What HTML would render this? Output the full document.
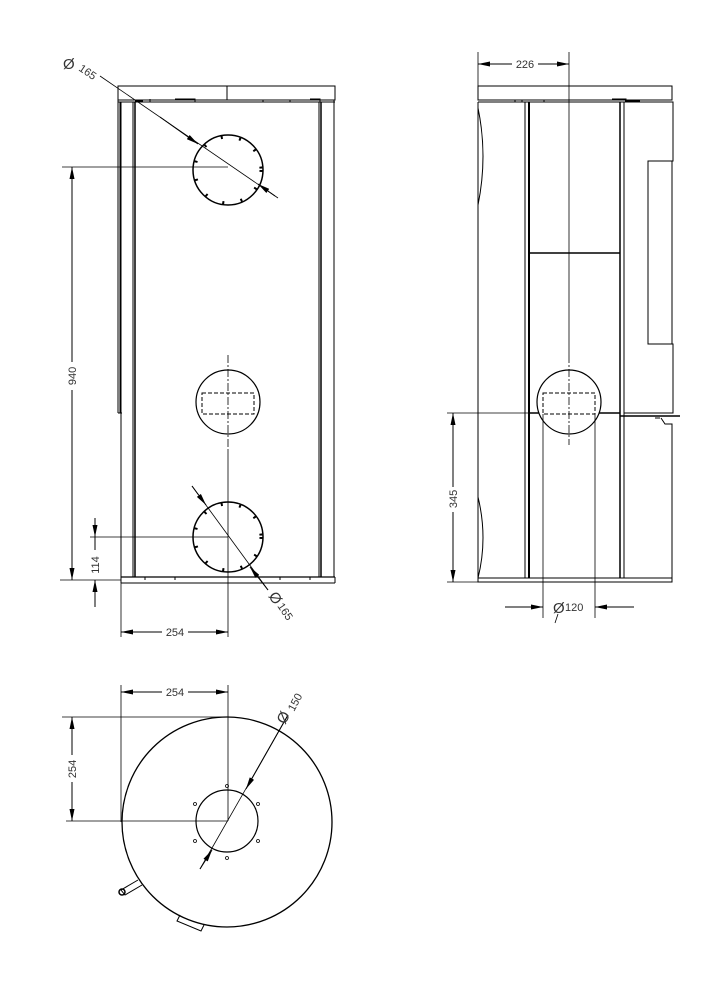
<!DOCTYPE html>
<html><head><meta charset="utf-8"><style>
html,body{margin:0;padding:0;background:#fff}
svg{display:block}
text{font-family:"Liberation Sans",sans-serif;font-size:11px;fill:#333}
.ph{font-size:15px}
</style></head><body>
<svg width="720" height="990" viewBox="0 0 720 990" xmlns="http://www.w3.org/2000/svg">
<defs>
<marker id="a" viewBox="0 0 12 5" refX="12" refY="2.5" markerWidth="12" markerHeight="5" markerUnits="userSpaceOnUse" orient="auto-start-reverse">
<path d="M0,0 L12,2.5 L0,5 z" fill="#000"/></marker>
</defs>
<g fill="none" stroke="#000" stroke-width="1">
<!-- FRONT VIEW -->
<rect x="118" y="86" width="217" height="14"/>
<line x1="227" y1="86" x2="227" y2="100"/>
<line x1="118" y1="102" x2="335" y2="102"/>
<line x1="118" y1="100" x2="118" y2="413"/>
<line x1="120" y1="102" x2="120" y2="413"/>
<line x1="118" y1="413" x2="122" y2="413"/>
<line x1="121" y1="102" x2="121" y2="583"/>
<line x1="133" y1="102" x2="133" y2="577"/>
<line x1="135" y1="102" x2="135" y2="577" stroke-width="1.5"/>
<line x1="319" y1="102" x2="319" y2="577"/>
<line x1="321" y1="102" x2="321" y2="577" stroke-width="1.5"/>
<line x1="334" y1="100" x2="334" y2="577"/>
<path d="M135,101 h8 M150,99 v3 M175,99 h20 v3 M263,100 v2 M290,100 v2 M310,99 h10 v3"/>
<line x1="121" y1="577" x2="335" y2="577" stroke-width="1.3"/>
<line x1="121" y1="583" x2="335" y2="583"/>
<line x1="335" y1="577" x2="335" y2="583"/>
<path d="M145,577 v3 M175,577 v3 M280,577 v3 M310,577 v3"/>
<circle cx="228" cy="170" r="35" stroke-width="1.5"/>
<circle cx="228" cy="170" r="33" stroke-width="3" stroke-dasharray="2,16.5"/>
<circle cx="228" cy="402" r="32" stroke-width="1.2"/>
<rect x="202" y="393" width="52" height="21" stroke-dasharray="4,2"/>
<circle cx="228" cy="537" r="35" stroke-width="1.5"/>
<circle cx="228" cy="537" r="33" stroke-width="3" stroke-dasharray="2,16.5"/>
<line x1="228" y1="355" x2="228" y2="450" stroke-dasharray="8,2,2,2" stroke-width="0.8"/>
<line x1="228" y1="450" x2="228" y2="637" stroke-width="0.8"/>
<!-- dims front -->
<line x1="62" y1="167" x2="228" y2="167" stroke-width="0.8"/>
<line x1="60" y1="580" x2="121" y2="580" stroke-width="0.8"/>
<line x1="72" y1="167" x2="72" y2="362" marker-start="url(#a)"/>
<line x1="72" y1="390" x2="72" y2="580" marker-end="url(#a)"/>
<line x1="90" y1="537" x2="228" y2="537" stroke-width="0.8"/>
<line x1="95" y1="518" x2="95" y2="537" marker-end="url(#a)"/>
<line x1="95" y1="607" x2="95" y2="580" marker-end="url(#a)"/>
<line x1="95" y1="537" x2="95" y2="550"/>
<line x1="121" y1="583" x2="121" y2="637" stroke-width="0.8"/>
<line x1="121" y1="632" x2="162" y2="632" marker-start="url(#a)"/>
<line x1="188" y1="632" x2="228" y2="632" marker-end="url(#a)"/>
<line x1="100" y1="76" x2="278" y2="198" stroke-width="0.8"/>
<line x1="160" y1="117" x2="198" y2="144" marker-end="url(#a)"/>
<line x1="275" y1="196" x2="258" y2="184" marker-end="url(#a)"/>
<line x1="192" y1="486" x2="268" y2="590" stroke-width="0.8"/>
<line x1="192" y1="486" x2="206" y2="505" marker-end="url(#a)"/>
<line x1="268" y1="590" x2="250" y2="567" marker-end="url(#a)"/>
<!-- SIDE VIEW -->
<rect x="478" y="86" width="194" height="14"/>
<line x1="478" y1="102" x2="672" y2="102"/>
<path d="M515,100 v2 M522,100 v2 M544,100 v2 M612,99 h14 v3 M625,101 h15"/>
<line x1="478" y1="102" x2="478" y2="578"/>
<line x1="525" y1="102" x2="525" y2="578"/>
<line x1="529" y1="102" x2="529" y2="578" stroke-width="2"/>
<line x1="620" y1="102" x2="620" y2="578" stroke-width="1.5"/>
<line x1="624" y1="102" x2="624" y2="578"/>
<line x1="529" y1="253" x2="620" y2="253" stroke-width="1.5"/>
<line x1="529" y1="413" x2="539" y2="413" stroke-width="1.5"/>
<line x1="599" y1="413" x2="620" y2="413" stroke-width="1.5"/>
<path d="M624,102 H673 V161 H672 M648,161 H672 V344 H648 Z M672,344 H673 V413 H624"/>
<line x1="620" y1="416" x2="680" y2="416" stroke-width="1.5"/>
<path d="M660,418 h-5 M661,418 l4,6 h7 v154"/>
<line x1="478" y1="578" x2="672" y2="578"/>
<rect x="478" y="578" width="194" height="4"/>
<path d="M478,108 Q488,156 478,205 M478,497 Q488,538 478,578"/>
<circle cx="569" cy="402" r="32" stroke-width="1.2"/>
<rect x="543" y="393" width="52" height="21" stroke-dasharray="4,2"/>
<line x1="569" y1="52" x2="569" y2="355" stroke-width="0.8"/>
<line x1="569" y1="355" x2="569" y2="445" stroke-dasharray="8,2,2,2" stroke-width="0.8"/>
<line x1="478" y1="52" x2="478" y2="86" stroke-width="0.8"/>
<line x1="478" y1="64" x2="512" y2="64" marker-start="url(#a)"/>
<line x1="538" y1="64" x2="569" y2="64" marker-end="url(#a)"/>
<line x1="447" y1="413" x2="539" y2="413" stroke-width="0.8"/>
<line x1="447" y1="582" x2="478" y2="582" stroke-width="0.8"/>
<line x1="453" y1="413" x2="453" y2="487" marker-start="url(#a)"/>
<line x1="453" y1="512" x2="453" y2="582" marker-end="url(#a)"/>
<line x1="543" y1="414" x2="543" y2="618" stroke-width="0.8"/>
<line x1="595" y1="414" x2="595" y2="618" stroke-width="0.8"/>
<line x1="505" y1="607" x2="543" y2="607" marker-end="url(#a)"/>
<line x1="634" y1="607" x2="595" y2="607" marker-end="url(#a)"/>
<line x1="558" y1="614" x2="555" y2="623" stroke-width="0.8"/>
<!-- TOP VIEW -->
<circle cx="227" cy="822" r="105" stroke-width="1.3"/>
<circle cx="227" cy="821" r="31" stroke-width="1.2"/>
<g stroke-width="0.8">
<circle cx="227" cy="786" r="1.5"/><circle cx="195" cy="804" r="1.5"/><circle cx="258" cy="804" r="1.5"/>
<circle cx="195" cy="841" r="1.5"/><circle cx="258" cy="841" r="1.5"/><circle cx="227" cy="858" r="1.5"/>
</g>
<line x1="121" y1="685" x2="121" y2="822" stroke-width="0.8"/>
<line x1="228" y1="685" x2="228" y2="821" stroke-width="0.8"/>
<line x1="62" y1="717" x2="228" y2="717" stroke-width="0.8"/>
<line x1="66" y1="821" x2="228" y2="821" stroke-width="0.8"/>
<line x1="121" y1="692" x2="162" y2="692" marker-start="url(#a)"/>
<line x1="188" y1="692" x2="228" y2="692" marker-end="url(#a)"/>
<line x1="72" y1="717" x2="72" y2="755" marker-start="url(#a)"/>
<line x1="72" y1="782" x2="72" y2="821" marker-end="url(#a)"/>
<line x1="200" y1="869" x2="288" y2="715" stroke-width="0.8"/>
<line x1="288" y1="715" x2="246" y2="789" marker-end="url(#a)"/>
<line x1="200" y1="869" x2="212" y2="850" marker-end="url(#a)"/>
<path d="M138,880 L121,890 L125,895 L142,885"/>
<circle cx="122" cy="892" r="3" stroke-width="1.5"/>
<path d="M180,915 l-3,6 l24,10 l3,-6"/>
</g>
<text x="63" y="69" class="ph">Ø</text>
<text x="0" y="0" transform="translate(78,70) rotate(34)">165</text>
<text x="0" y="0" transform="translate(268,596) rotate(56)" class="ph">Ø</text>
<text x="0" y="0" transform="translate(277,606) rotate(56)">165</text>
<text x="0" y="0" transform="translate(76,376) rotate(-90)" text-anchor="middle">940</text>
<text x="0" y="0" transform="translate(99,565) rotate(-90)" text-anchor="middle">114</text>
<text x="175" y="636" text-anchor="middle">254</text>
<text x="525" y="68" text-anchor="middle">226</text>
<text x="0" y="0" transform="translate(457,499) rotate(-90)" text-anchor="middle">345</text>
<text x="553" y="613" class="ph">Ø</text>
<text x="565" y="611">120</text>
<text x="175" y="696" text-anchor="middle">254</text>
<text x="0" y="0" transform="translate(76,769) rotate(-90)" text-anchor="middle">254</text>
<text x="0" y="0" transform="translate(285,725) rotate(-62)" class="ph">Ø</text>
<text x="0" y="0" transform="translate(294,712) rotate(-62)">150</text>
</svg>
</body></html>
